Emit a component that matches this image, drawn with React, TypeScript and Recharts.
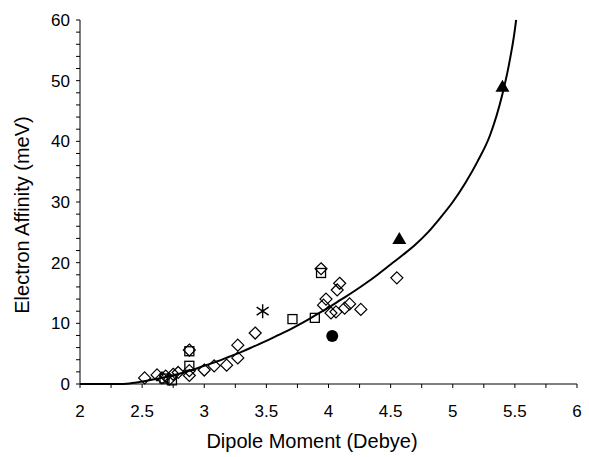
import React from 'react';
import { ComposedChart, Line, Scatter, XAxis, YAxis } from 'recharts';

// fitted curve
const curveX = [2.0, 2.3, 2.4, 2.5, 2.6, 2.7, 2.8, 2.9, 3.0, 3.1, 3.2, 3.3, 3.4, 3.5, 3.6, 3.7, 3.8, 3.9, 4.0, 4.1, 4.2, 4.3, 4.4, 4.5, 4.6, 4.7, 4.8, 4.9, 5.0, 5.1, 5.2, 5.3, 5.4, 5.45, 5.5, 5.51];
const curveY = [0, 0, 0.1, 0.4, 0.8, 1.2, 1.7, 2.3, 3.0, 3.7, 4.5, 5.3, 6.2, 7.1, 8.1, 9.1, 10.2, 11.4, 12.6, 13.9, 15.2, 16.6, 18.1, 19.7, 21.3, 23.0, 25.0, 27.4, 30.0, 33.1, 36.7, 41.0, 47.8, 52.4, 58.4, 60.0];

const diamondX = [2.52, 2.62, 2.66, 2.69, 2.72, 2.75, 2.79, 2.88, 2.88, 2.88, 3.0, 3.08, 3.18, 3.27, 3.27, 3.41, 3.94, 3.96, 3.98, 4.02, 4.06, 4.07, 4.09, 4.13, 4.17, 4.26, 4.55];
const diamondY = [1.0, 1.5, 1.0, 1.3, 0.8, 1.6, 1.9, 5.6, 2.2, 1.4, 2.3, 3.0, 3.1, 4.3, 6.4, 8.4, 19.0, 13.0, 14.0, 11.7, 11.9, 15.5, 16.6, 12.5, 13.2, 12.3, 17.5];

const squareX = [2.68, 2.74, 2.88, 2.88, 3.71, 3.89, 3.94];
const squareY = [0.9, 0.6, 3.0, 5.4, 10.7, 10.9, 18.3];

const starX = [3.47];
const starY = [12.0];

const triangleX = [4.57, 5.4];
const triangleY = [23.9, 49.0];

const circleX = [4.03];
const circleY = [7.9];

const xTicks = [2, 2.25, 2.5, 2.75, 3, 3.25, 3.5, 3.75, 4, 4.25, 4.5, 4.75, 5, 5.25, 5.5, 5.75, 6];
const yTicks = [0, 2, 4, 6, 8, 10, 12, 14, 16, 18, 20, 22, 24, 26, 28, 30, 32, 34, 36, 38, 40, 42, 44, 46, 48, 50, 52, 54, 56, 58, 60];

const zip = (xs: number[], ys: number[]) => xs.map((x, i) => ({ x, y: ys[i] }));

const FONT = '"Liberation Sans", Arial, sans-serif';

const Diamond = ({ cx, cy }: any) => (
    <path d={`M${cx},${cy - 6}L${cx + 6},${cy}L${cx},${cy + 6}L${cx - 6},${cy}Z`} fill="none" stroke="#000" strokeWidth={1.2} />
);
const Square = ({ cx, cy }: any) => (
    <rect x={cx - 4.5} y={cy - 4.5} width={9} height={9} fill="none" stroke="#000" strokeWidth={1.3} />
);
const Star = ({ cx, cy }: any) => (
    <path
        d={`M${cx},${cy - 7}L${cx},${cy + 7}M${cx - 6},${cy - 4}L${cx + 6},${cy + 4}M${cx - 6},${cy + 4}L${cx + 6},${cy - 4}`}
        stroke="#000"
        strokeWidth={1.4}
    />
);
const Triangle = ({ cx, cy }: any) => (
    <path d={`M${cx},${cy - 7}L${cx + 7},${cy + 5}L${cx - 7},${cy + 5}Z`} fill="#000" />
);
const Dot = ({ cx, cy }: any) => <circle cx={cx} cy={cy} r={6} fill="#000" />;

const tickStyle = { fill: '#000', fontSize: 17, fontFamily: FONT };

const App: React.FC = () => {
    return (
        <div style={{ position: 'absolute', left: 0, top: 0, background: '#fff' }}>
            <ComposedChart width={589} height={457} margin={{ top: 20, right: 12, left: 0, bottom: 0 }}>
                <XAxis
                    type="number"
                    dataKey="x"
                    domain={[2, 6]}
                    ticks={xTicks}
                    interval={0}
                    tickFormatter={(v: number) => ((v * 2) % 1 === 0 ? String(v) : '')}
                    stroke="#000"
                    tickSize={4}
                    tickMargin={17}
                    tick={tickStyle}
                    height={73}
                    label={{
                        content: () => (
                            <text x={312} y={448} textAnchor="middle" fontSize={20} fontFamily={FONT} fill="#000">
                                Dipole Moment (Debye)
                            </text>
                        ),
                    }}
                />
                <YAxis
                    type="number"
                    dataKey="y"
                    domain={[0, 60]}
                    ticks={yTicks}
                    interval={0}
                    tickFormatter={(v: number) => (v % 10 === 0 ? String(v) : '')}
                    stroke="#000"
                    tickSize={4}
                    tickMargin={6}
                    tick={tickStyle}
                    width={80}
                    label={{
                        content: () => (
                            <text
                                x={22}
                                y={215}
                                transform="rotate(-90 22 215)"
                                textAnchor="middle"
                                dominantBaseline="central"
                                fontSize={20}
                                fontFamily={FONT}
                                fill="#000"
                            >
                                Electron Affinity (meV)
                            </text>
                        ),
                    }}
                />
                <Line
                    data={zip(curveX, curveY)}
                    dataKey="y"
                    type="monotone"
                    stroke="#000"
                    strokeWidth={2}
                    dot={false}
                    activeDot={false}
                    isAnimationActive={false}
                />
                <Scatter data={zip(diamondX, diamondY)} shape={Diamond} isAnimationActive={false} />
                <Scatter data={zip(squareX, squareY)} shape={Square} isAnimationActive={false} />
                <Scatter data={zip(starX, starY)} shape={Star} isAnimationActive={false} />
                <Scatter data={zip(triangleX, triangleY)} shape={Triangle} isAnimationActive={false} />
                <Scatter data={zip(circleX, circleY)} shape={Dot} isAnimationActive={false} />
            </ComposedChart>
        </div>
    );
};

export default App;
